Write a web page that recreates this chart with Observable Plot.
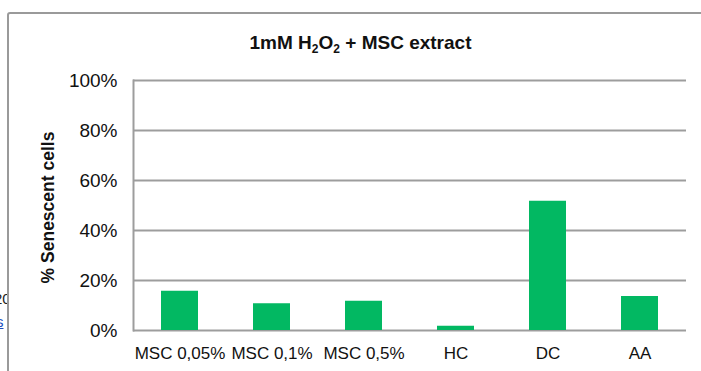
<!DOCTYPE html>
<html>
<head>
<meta charset="utf-8">
<script src="https://cdn.jsdelivr.net/npm/d3@7"></script>
<script src="https://cdn.jsdelivr.net/npm/@observablehq/plot@0.6"></script>
<style>
  html, body { margin: 0; padding: 0; background: #fff; }
  #wrap { position: relative; width: 701px; height: 371px; overflow: hidden; font-family: "Liberation Sans", Arial, sans-serif; }
  #frame { position: absolute; left: 7px; top: 12px; width: 720px; height: 400px; border: 2px solid #9a9a9a; border-radius: 3px; box-sizing: border-box; }
  #outside { position: absolute; left: 0; top: 0; width: 7px; height: 371px; overflow: hidden; font-size: 15px; color: #222; }
  #title { position: absolute; left: 10px; width: 701px; top: 31px; line-height: 24px; text-align: center; font-weight: bold; font-size: 19px; color: #111; }
  #title sub { font-size: 12px; vertical-align: -4px; line-height: 0; }
  #chart { position: absolute; left: 0; top: 0; }
</style>
</head>
<body>
<div id="wrap">
  <div id="outside">
    <div style="position:absolute; left:-6px; top:290px;">20</div>
    <div style="position:absolute; left:-4px; top:313px; color:#1a4fbf; text-decoration:underline;">s</div>
  </div>
  <div id="frame"></div>
  <div id="chart"></div>
  <div id="title">1mM H<sub>2</sub>O<sub>2</sub> + MSC extract</div>
</div>
<script>
const categories = ["MSC 0,05%", "MSC 0,1%", "MSC 0,5%", "HC", "DC", "AA"];
const values = [0.157, 0.107, 0.117, 0.017, 0.517, 0.136];
const yTicks = [0, 0.2, 0.4, 0.6, 0.8, 1.0];
const yLabel = "% Senescent cells";

const data = categories.map((c, i) => ({category: c, value: values[i]}));
const fmt = d3.format(".0%");

const chart = Plot.plot({
  width: 701,
  height: 371,
  marginLeft: 133,
  marginRight: 15,
  marginTop: 80,
  marginBottom: 41,
  style: {fontFamily: "'Liberation Sans', Arial, sans-serif", background: "transparent", color: "#111"},
  x: {domain: categories, paddingInner: 0.6, paddingOuter: 0.3, label: null, axis: null},
  y: {domain: [0, 1], label: null, axis: null},
  marks: [
    Plot.ruleY(yTicks, {stroke: "#9d9d9d", strokeWidth: 2}),
    Plot.frame({anchor: "left", stroke: "#9d9d9d", strokeWidth: 2}),
    Plot.barY(data, {x: "category", y: "value", fill: "#02b862"}),
    Plot.text(yTicks, {y: d => d, frameAnchor: "left", dx: -16, textAnchor: "end", text: d => fmt(d), fontSize: 19, fill: "#111"}),
    Plot.text(categories, {x: d => d, frameAnchor: "bottom", dy: 28, text: d => d, fontSize: 17, fill: "#111"}),
    Plot.text([yLabel], {frameAnchor: "left", dx: -85, dy: 2, rotate: -90, fontWeight: "bold", fontSize: 17.5, textAnchor: "middle", fill: "#111"})
  ]
});
document.getElementById("chart").appendChild(chart);
</script>
</body>
</html>
